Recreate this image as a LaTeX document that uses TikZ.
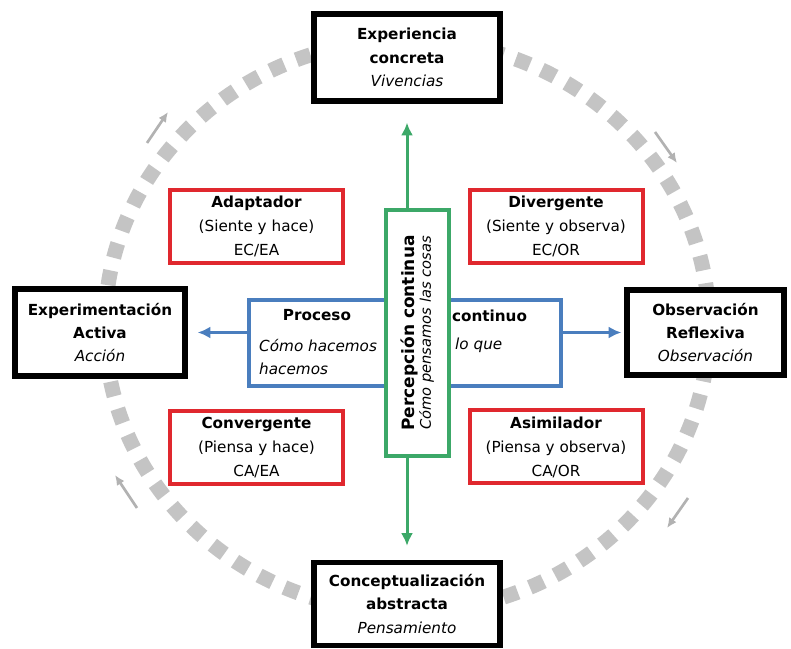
\documentclass[tikz,border=0pt]{standalone}
\usepackage{fontspec}
\setmainfont{DejaVu Sans}
\usepackage{xcolor}
\usepackage{tikz}
\usetikzlibrary{arrows.meta}
\usetikzlibrary{positioning}
\definecolor{ringgray}{RGB}{196,196,196}
\definecolor{arrowgray}{RGB}{178,178,178}
\definecolor{stylered}{RGB}{224,40,46}
\definecolor{procblue}{RGB}{74,126,190}
\definecolor{percgreen}{RGB}{60,168,104}
\tikzstyle{stage}    = [rectangle, draw=black, line width=0.16cm, fill=white, align=center, inner sep=0pt, font=\fontsize{13}{20}\selectfont]
\tikzstyle{learner}  = [rectangle, draw=stylered, line width=0.12cm, fill=white, align=center, inner sep=0pt, minimum width=5.19cm, minimum height=2.19cm, font=\fontsize{13}{20.5}\selectfont]
\tikzstyle{proc}     = [rectangle, draw=procblue, line width=0.12cm, fill=white, minimum width=9.36cm, minimum height=2.58cm]
\tikzstyle{percep}   = [rectangle, draw=percgreen, line width=0.12cm, fill=white, align=center, inner sep=0pt, minimum width=7.38cm, minimum height=1.89cm]
\tikzstyle{ring}     = [draw=ringgray, line width=0.45cm, dash pattern=on 0.45cm off 0.39cm]
\tikzstyle{cycle}    = [draw=arrowgray, line width=0.08cm, -{Latex[length=0.3cm, width=0.27cm]}]
\tikzstyle{line}     = [draw, line width=0.09cm, -{Latex[length=0.38cm, width=0.36cm]}]
\tikzstyle{txt}      = [font=\fontsize{13}{20}\selectfont, inner sep=0pt]

\begin{document}
\begin{tikzpicture}[x=0.03cm, y=0.03cm]
        \useasboundingbox (0,0) rectangle (791,648);
        % ciclo
        \draw[ring] (407,322) ellipse [x radius=9.06cm, y radius=8.58cm];
        \draw[cycle] (147,505) -- (168,536);
        \draw[cycle] (655,516) -- (677,485);
        \draw[cycle] (688,150) -- (667,120);
        \draw[cycle] (137,140) -- (115,173);
        % etapas
        \node [stage, minimum width=5.58cm, minimum height=2.61cm] (concreta) at (407,590.5) {\textbf{Experiencia}\\\textbf{concreta}\\\textit{Vivencias}};
        \node [stage, minimum width=5.1cm, minimum height=2.61cm] (activa) at (100,315.5) {\textbf{Experimentación}\\\textbf{Activa}\\\textit{Acción}};
        \node [stage, minimum width=4.71cm, minimum height=2.55cm] (reflexiva) at (705.5,315.5) {\textbf{Observación}\\\textbf{Reflexiva}\\\textit{Observación}};
        \node [stage, minimum width=5.58cm, minimum height=2.49cm] (abstracta) at (407,44) {\textbf{Conceptualización}\\\textbf{abstracta}\\\textit{Pensamiento}};
        % ejes
        \path [line, draw=percgreen, shorten >=0.57cm] (concreta.south |- 0,322) -- (concreta.south);
        \path [line, draw=percgreen, shorten >=0.42cm] (abstracta.north |- 0,322) -- (abstracta.north);
        \node [proc] (proceso) at (405,305) {};
        \path [line, draw=procblue, shorten >=0.3cm] (proceso.west |- activa.east) -- (activa.east);
        \path [line, draw=procblue, shorten >=0.09cm] (proceso.east |- reflexiva.west) -- (reflexiva.west);
        \node [txt] (p1) at (317,333) {\textbf{Proceso}};
        \node [txt] (p2) at (489.5,332) {\textbf{continuo}};
        \node [txt, anchor=west, align=left] (p3) at (259,291) {\textit{Cómo hacemos}\\\textit{hacemos}};
        \node [txt, anchor=west] (p4) at (455,303) {\textit{lo que}};
        \node [percep, rotate=90] (percepcion) at (417.5,315) {{\fontsize{14.5}{22}\selectfont\textbf{Percepción continua}}\\{\fontsize{12.5}{22}\selectfont\textit{Cómo pensamos las cosas}}};
        % estilos
        \node [learner] (adaptador) at (256.5,421.5) {\textbf{Adaptador}\\(Siente y hace)\\EC/EA};
        \node [learner] (divergente) at (556,421.5) {\textbf{Divergente}\\(Siente y observa)\\EC/OR};
        \node [learner] (convergente) at (256.5,200.5) {\textbf{Convergente}\\(Piensa y hace)\\CA/EA};
        \node [learner] (asimilador) at (556,201) {\textbf{Asimilador}\\(Piensa y observa)\\CA/OR};
\end{tikzpicture}
\end{document}
